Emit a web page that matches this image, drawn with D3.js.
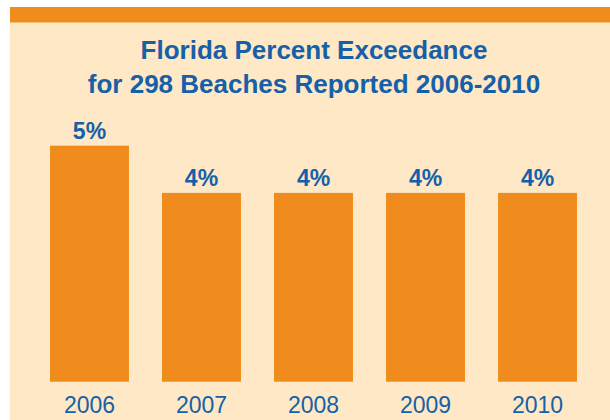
<!DOCTYPE html>
<html>
<head>
<meta charset="utf-8">
<script src="https://cdn.jsdelivr.net/npm/d3@7"></script>
<style>
  html, body { margin: 0; padding: 0; background: #fff; }
  svg { display: block; }
</style>
</head>
<body>
<svg width="610" height="420"></svg>
<script>
// Florida exceedance by year
const years = ['2006', '2007', '2008', '2009', '2010'];
const percent = [5, 4, 4, 4, 4];
const titleLines = ['Florida Percent Exceedance', 'for 298 Beaches Reported 2006-2010'];

const orange = '#f08c1e';
const peach = '#fee8c5';
const blue = '#1560a8';
const font = '"Liberation Sans", Arial, sans-serif';

const svg = d3.select('svg');

// panel
svg.append('rect').attr('x', 10).attr('y', 7).attr('width', 600).attr('height', 413).attr('fill', peach);
svg.append('rect').attr('x', 10).attr('y', 7).attr('width', 600).attr('height', 15.5).attr('fill', orange);

// title
svg.append('g').selectAll('text')
  .data(titleLines)
  .enter().append('text')
    .attr('x', 314)
    .attr('y', (d, i) => 59 + i * 34)
    .attr('text-anchor', 'middle')
    .attr('font-family', font)
    .attr('font-weight', 'bold')
    .attr('font-size', 26)
    .attr('fill', blue)
    .text(d => d);

const x = d3.scaleBand().domain(years).range([50, 577]).paddingInner(0.295).paddingOuter(0);
const y = d3.scaleLinear().domain([0, 5]).range([381.7, 145.7]);

const g = svg.append('g');

g.selectAll('rect.bar')
  .data(percent)
  .enter().append('rect')
    .attr('class', 'bar')
    .attr('x', (d, i) => x(years[i]))
    .attr('y', d => y(d))
    .attr('width', x.bandwidth())
    .attr('height', d => y(0) - y(d))
    .attr('fill', orange);

g.selectAll('text.val')
  .data(percent)
  .enter().append('text')
    .attr('class', 'val')
    .attr('x', (d, i) => x(years[i]) + x.bandwidth() / 2)
    .attr('y', d => y(d) - 6.7)
    .attr('text-anchor', 'middle')
    .attr('font-family', font)
    .attr('font-weight', 'bold')
    .attr('font-size', 23)
    .attr('fill', blue)
    .text(d => d + '%');

// year axis, no line or ticks
const xAxis = svg.append('g')
  .attr('transform', 'translate(0,' + y(0) + ')')
  .call(d3.axisBottom(x).tickSize(0).tickPadding(15));
xAxis.select('.domain').remove();
xAxis.selectAll('text')
  .attr('font-family', font)
  .attr('font-size', 23)
  .attr('fill', blue);
</script>
</body>
</html>
